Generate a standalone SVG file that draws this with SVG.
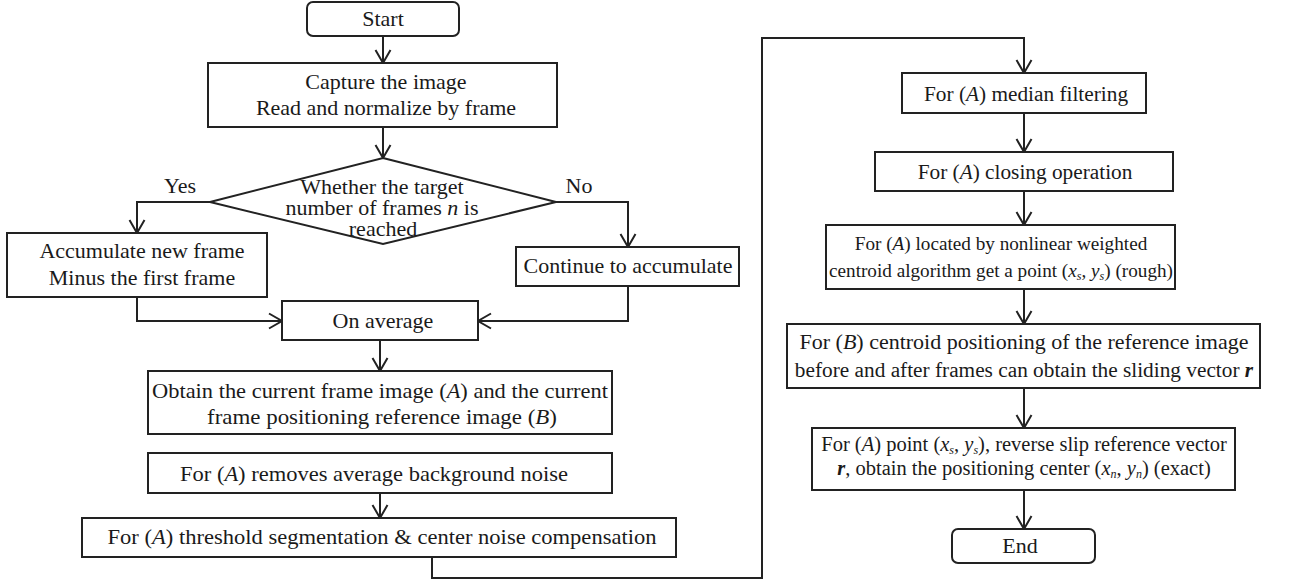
<svg xmlns="http://www.w3.org/2000/svg" width="1295" height="579" viewBox="0 0 1295 579">
<defs>
<marker id="arr" markerUnits="userSpaceOnUse" markerWidth="20" markerHeight="20" refX="0" refY="0" orient="auto" overflow="visible">
<path d="M-13,-7.5 L0,0 L-13,7.5" fill="none" stroke="#222" stroke-width="2"/>
</marker>
<style>
.box{fill:#fff;stroke:#222;stroke-width:2}
.t{font-family:"Liberation Serif","Times New Roman",serif;font-size:22px;fill:#1a1a1a;text-anchor:middle}
.r{font-size:21.3px}
.loc{font-size:19.2px}
.pt{font-size:20.5px}
.i{font-style:italic}
.b{font-style:italic;font-weight:bold}
.sub{font-size:12px;font-style:italic}
.c{fill:none;stroke:#222;stroke-width:2}
</style>
</defs>
<rect width="1295" height="579" fill="#fff"/>
<g id="connectors">
<path class="c" d="M383,36 V63" marker-end="url(#arr)"/>
<path class="c" d="M383,127 V158" marker-end="url(#arr)"/>
<path class="c" d="M210,202 H137 V233" marker-end="url(#arr)"/>
<path class="c" d="M556,202 H628 V247" marker-end="url(#arr)"/>
<path class="c" d="M137,297 V321 H282" marker-end="url(#arr)"/>
<path class="c" d="M628,286 V321 H478" marker-end="url(#arr)"/>
<path class="c" d="M380,340 V371" marker-end="url(#arr)"/>
<path class="c" d="M380,493 V518" marker-end="url(#arr)"/>
<path class="c" d="M432,557 V578 H762 V38 H1024 V73" marker-end="url(#arr)"/>
<path class="c" d="M1024,113 V152" marker-end="url(#arr)"/>
<path class="c" d="M1024,191 V225" marker-end="url(#arr)"/>
<path class="c" d="M1024,289 V324" marker-end="url(#arr)"/>
<path class="c" d="M1024,388 V428" marker-end="url(#arr)"/>
<path class="c" d="M1024,490 V529" marker-end="url(#arr)"/>
<text class="t" x="180" y="193">Yes</text>
<text class="t" x="579" y="193">No</text>
</g>
<g id="start">
<rect class="box" x="307" y="2" width="152" height="34" rx="6"/>
<text class="t" x="383" y="26">Start</text>
</g>
<g id="capture">
<rect class="box" x="208" y="63" width="349" height="64"/>
<text class="t" x="386" y="89">Capture the image</text>
<text class="t" x="386" y="115">Read and normalize by frame</text>
</g>
<g id="decision">
<polygon class="box" points="383,158 556,202 383,244 210,202"/>
<text class="t" x="382" y="194">Whether the target</text>
<text class="t" x="382" y="215">number of frames <tspan class="i">n</tspan> is</text>
<text class="t" x="383" y="236">reached</text>
</g>
<g id="accumulate">
<rect class="box" x="7" y="233" width="260" height="64"/>
<text class="t" x="142" y="258">Accumulate new frame</text>
<text class="t" x="142" y="285">Minus the first frame</text>
</g>
<g id="continue">
<rect class="box" x="516" y="247" width="223" height="39"/>
<text class="t" x="628" y="273">Continue to accumulate</text>
</g>
<g id="average">
<rect class="box" x="282" y="301" width="196" height="39"/>
<text class="t" x="383" y="328">On average</text>
</g>
<g id="obtain">
<rect class="box" x="148" y="371" width="464" height="63"/>
<text class="t" x="380" y="398" textLength="456" lengthAdjust="spacingAndGlyphs">Obtain the current frame image (<tspan class="i">A</tspan>) and the current</text>
<text class="t" x="382" y="424" textLength="350" lengthAdjust="spacingAndGlyphs">frame positioning reference image (<tspan class="i">B</tspan>)</text>
</g>
<g id="removes">
<rect class="box" x="148" y="453" width="464" height="40"/>
<text class="t" x="374" y="481" textLength="388" lengthAdjust="spacingAndGlyphs">For (<tspan class="i">A</tspan>) removes average background noise</text>
</g>
<g id="threshold">
<rect class="box" x="82" y="518" width="594" height="39"/>
<text class="t" x="382" y="544" textLength="549" lengthAdjust="spacingAndGlyphs">For (<tspan class="i">A</tspan>) threshold segmentation &amp; center noise compensation</text>
</g>
<g id="median">
<rect class="box" x="902" y="73" width="244" height="40"/>
<text class="t r" x="1026" y="101">For (<tspan class="i">A</tspan>) median filtering</text>
</g>
<g id="closing">
<rect class="box" x="875" y="152" width="298" height="39"/>
<text class="t r" x="1025" y="179">For (<tspan class="i">A</tspan>) closing operation</text>
</g>
<g id="located">
<rect class="box" x="826" y="225" width="349" height="64"/>
<text class="t loc" x="1001" y="250">For (<tspan class="i">A</tspan>) located by nonlinear weighted</text>
<text class="t loc" x="1001" y="277">centroid algorithm get a point (<tspan class="i">x</tspan><tspan class="sub" dy="3">s</tspan><tspan dy="-3">, </tspan><tspan class="i">y</tspan><tspan class="sub" dy="3">s</tspan><tspan dy="-3">) (rough)</tspan></text>
</g>
<g id="sliding">
<rect class="box" x="787" y="324" width="473" height="64"/>
<text class="t" x="1024" y="349">For (<tspan class="i">B</tspan>) centroid positioning of the reference image</text>
<text class="t r" x="1024" y="377">before and after frames can obtain the sliding vector <tspan class="b">r</tspan></text>
</g>
<g id="point">
<rect class="box" x="812" y="428" width="423" height="62"/>
<text class="t pt" x="1024" y="451">For (<tspan class="i">A</tspan>) point (<tspan class="i">x</tspan><tspan class="sub" dy="3">s</tspan><tspan dy="-3">, </tspan><tspan class="i">y</tspan><tspan class="sub" dy="3">s</tspan><tspan dy="-3">), reverse slip reference vector</tspan></text>
<text class="t pt" x="1024" y="475"><tspan class="b">r</tspan>, obtain the positioning center (<tspan class="i">x</tspan><tspan class="sub" dy="3">n</tspan><tspan dy="-3">, </tspan><tspan class="i">y</tspan><tspan class="sub" dy="3">n</tspan><tspan dy="-3">) (exact)</tspan></text>
</g>
<g id="end">
<rect class="box" x="952" y="529" width="143" height="34" rx="6"/>
<text class="t" x="1020" y="553">End</text>
</g>
</svg>
